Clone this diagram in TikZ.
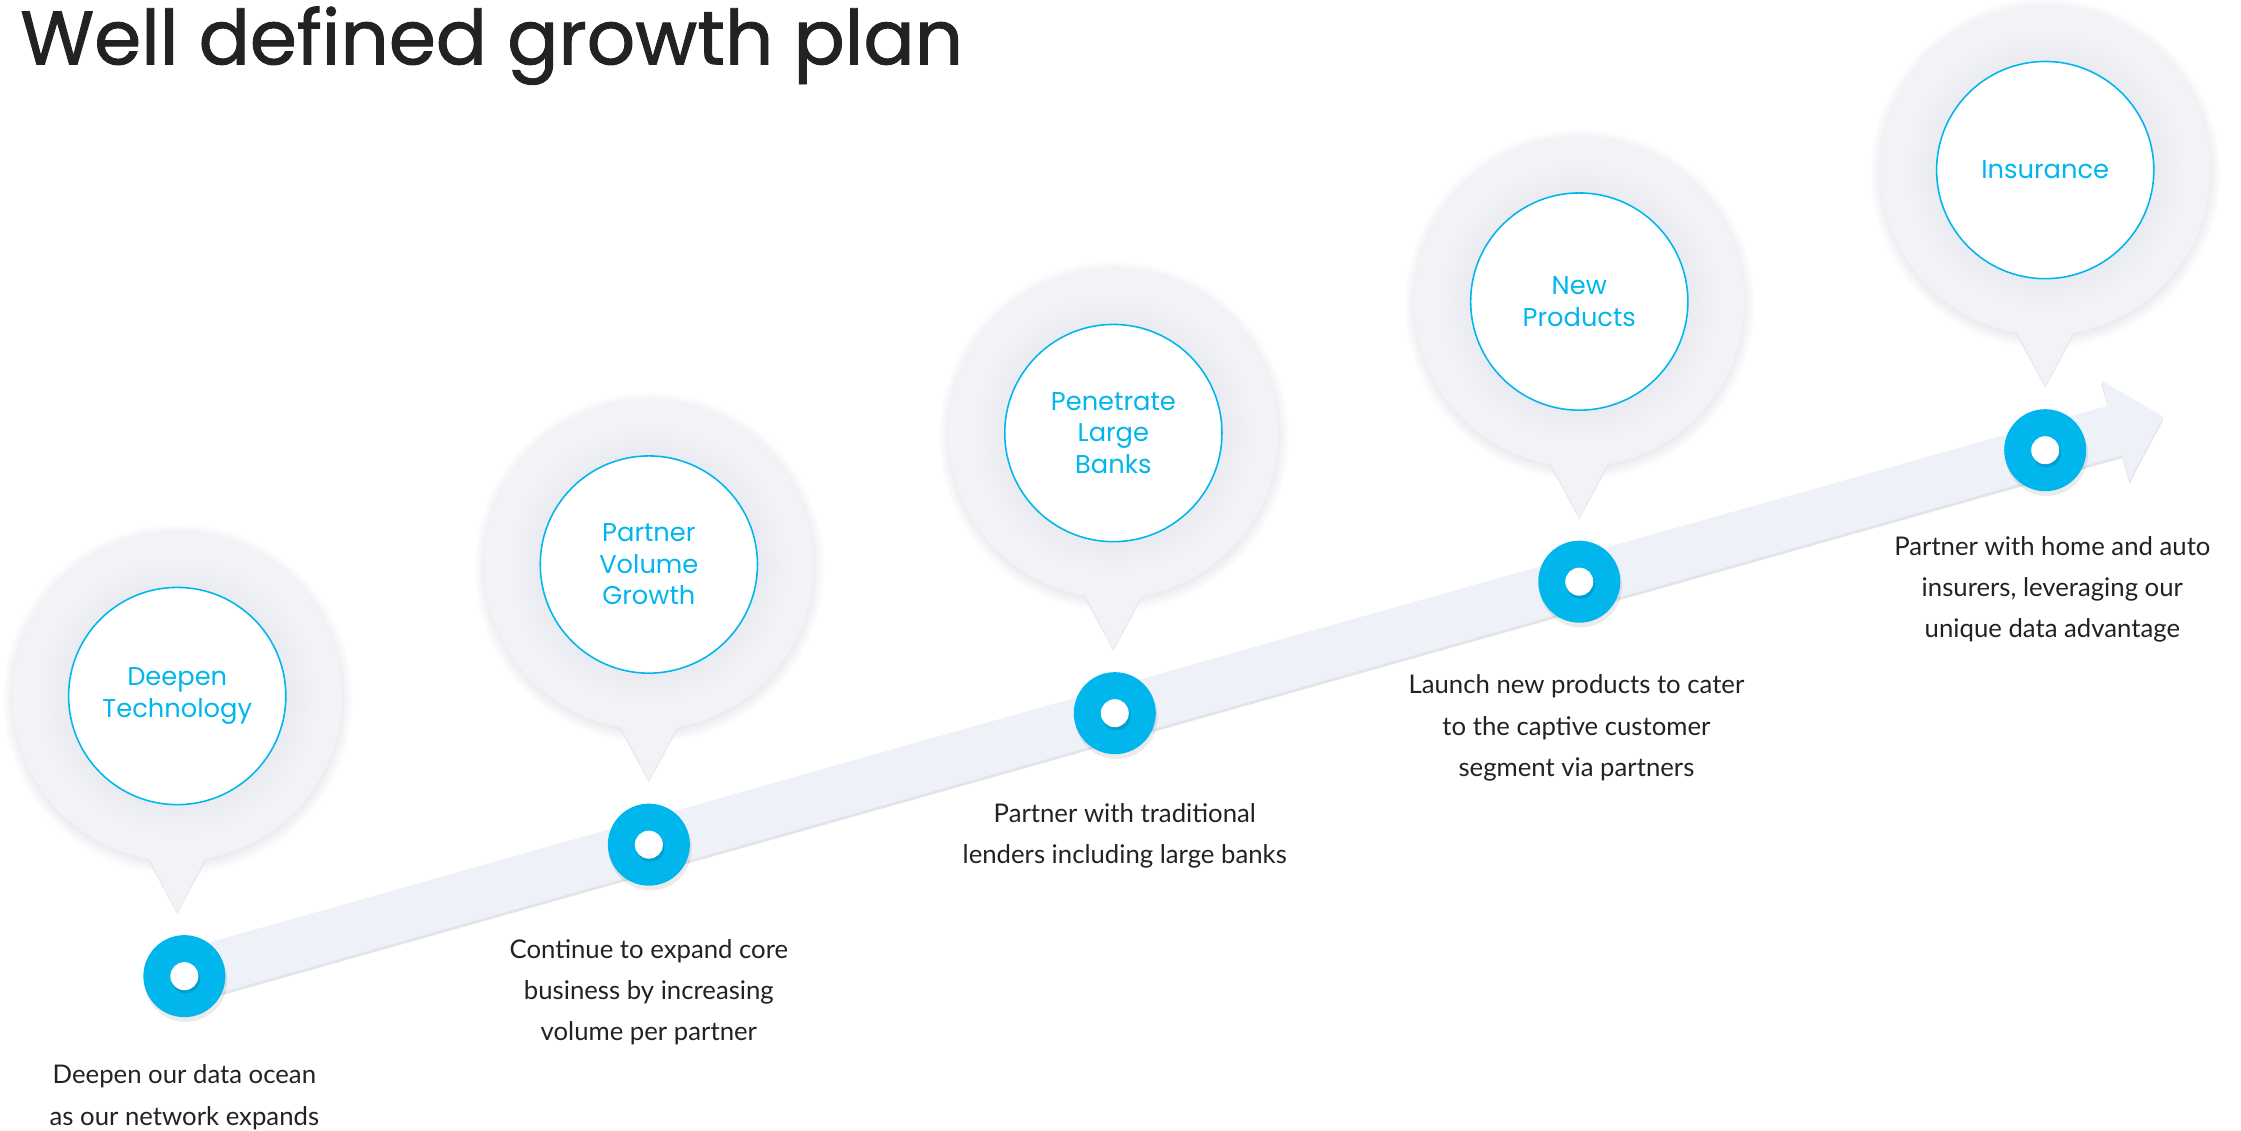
\documentclass[tikz,border=0pt]{standalone}
\usepackage{fontspec}
\setmainfont{Lato}
\newfontfamily\poppins{Poppins}
\newfontfamily\poppinstitle{Poppins}[FakeBold=1.2]
\usetikzlibrary{positioning,calc,backgrounds}

\definecolor{growcyan}{RGB}{0,182,237}
\definecolor{bubfill}{RGB}{241,243,247}
\definecolor{bubdark}{RGB}{233,235,240}
\definecolor{bubedge}{RGB}{232,234,237}
\definecolor{bandcol}{RGB}{238,241,248}
\definecolor{bandedge}{RGB}{226,228,233}
\definecolor{ink}{RGB}{34,34,34}

% glow round the white circle, and the soft rim outside the bubble
\pgfdeclareradialshading{bubbleglow}{\pgfpoint{0bp}{0bp}}{color(0bp)=(bubdark); color(16.4bp)=(bubdark); color(21bp)=(bubfill); color(25bp)=(bubfill); color(50bp)=(bubfill)}
\pgfdeclareradialshading{bubbleshadow}{\pgfpoint{0bp}{0bp}}{color(0bp)=(bubedge); color(23bp)=(bubedge); color(25bp)=(white); color(50bp)=(white)}

\tikzset{
  titletext/.style={font=\poppinstitle\fontsize{53}{58}\selectfont, text=ink, anchor=base west, inner sep=0},
  pinlabel/.style={circle, draw=growcyan, line width=1.1pt, fill=white, minimum size=152pt, inner sep=0, align=center, text=growcyan, font=\poppins\fontsize{18}{22}\selectfont},
  stepdot/.style={circle, fill=growcyan, minimum size=57.4pt, inner sep=0},
  stepnote/.style={align=center, text=ink, inner sep=0, font=\fontsize{18}{29}\selectfont},
}

\begin{document}
\begin{tikzpicture}[x=1pt, y=-1pt]
	\useasboundingbox (0,0) rectangle (1568,791);
	%title
	\node[titletext] (title) at (14,45) {Well defined growth plan};

	%pins, markers and notes along the growth line
	\foreach \i/\x/\y/\bx/\tx/\ty/\lab/\txt in {
		1/129/683/-5/0/1/{Deepen\\Technology}/{Deepen our data ocean\\as our network expands},
		2/454/591/0/0/-3/{Partner\\Volume\\Growth}/{Continue to expand core\\business by increasing\\volume per partner},
		3/780/499/-1/7/0/{Penetrate\\Large\\Banks}/{Partner with traditional\\lenders including large banks},
		4/1105/407/0/-2/-2/{New\\Products}/{Launch new products to cater\\to the captive customer\\segment via partners},
		5/1431/315/0/5/3/{Insurance}/{Partner with home and auto\\insurers, leveraging our\\unique data advantage}}{
		%bubble with its pointer
		\shade[shading=bubbleshadow] (\x+\bx,\y-194) circle (123pt);
		\fill[bubedge] (\x+\bx-23,\y-86) -- (\x+\bx+23,\y-86) -- (\x+\bx,\y-43.5) -- cycle;
		\fill[bubfill] (\x+\bx-22,\y-87) -- (\x+\bx+22,\y-87) -- (\x+\bx,\y-45) -- cycle;
		\shade[shading=bubbleglow] (\x+\bx,\y-196) circle (115.5pt);
		\node[pinlabel] (b\i) at (\x+\bx,\y-196) {\lab};
		%marker on the line
		\fill[black, opacity=.08] (\x+1,\y+3) circle (29pt);
		\node[stepdot] (d\i) at (\x,\y) {};
		\fill[black, opacity=.12] (\x+1,\y+2) circle (10pt);
		\fill[white] (d\i) circle (9.8pt);
		%note below the marker
		\node[stepnote, below=34pt of d\i, xshift=\tx pt, yshift=\ty pt] (t\i) {\txt};
	}

	%growth line with its arrow head
	\begin{scope}[on background layer]
		\coordinate (tip) at ($(d1)!1439pt!(d5)$);
		\coordinate (neck) at ($(d1)!1404pt!(d5)$);
		\begin{scope}[transform canvas={yshift=-2pt}]
			\fill[bandedge] ($(d1)!18pt!90:(tip)$) -- ($(neck)!18pt!90:(tip)$) -- ($(neck)!36.5pt!90:(tip)$) -- (tip) -- ($(neck)!36.5pt!-90:(tip)$) -- ($(neck)!18pt!-90:(tip)$) -- ($(d1)!18pt!-90:(tip)$) -- cycle;
		\end{scope}
		\fill[bandcol] ($(d1)!18pt!90:(tip)$) -- ($(neck)!18pt!90:(tip)$) -- ($(neck)!36.5pt!90:(tip)$) -- (tip) -- ($(neck)!36.5pt!-90:(tip)$) -- ($(neck)!18pt!-90:(tip)$) -- ($(d1)!18pt!-90:(tip)$) -- cycle;
	\end{scope}
\end{tikzpicture}
\end{document}
